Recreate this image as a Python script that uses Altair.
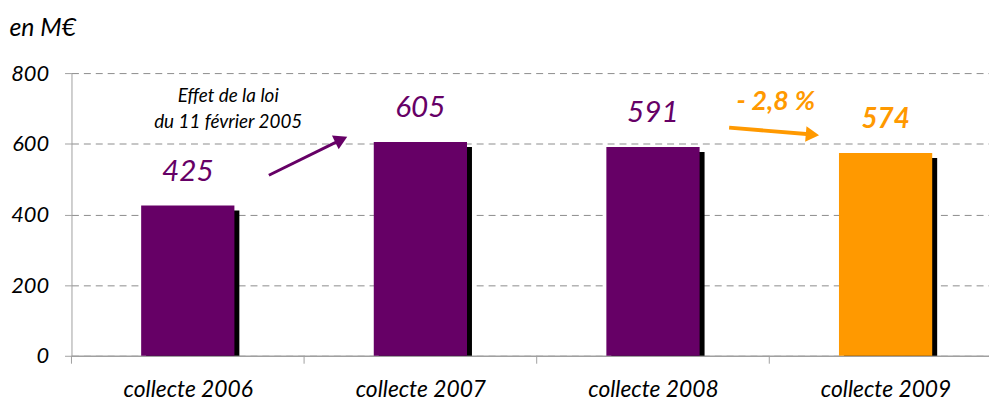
import json
import altair as alt
import pandas as pd

categories = ["collecte 2006", "collecte 2007", "collecte 2008", "collecte 2009"]
values = [425, 605, 591, 574]
labels = ["425", "605", "591", "574"]
groups = ["avant", "avant", "avant", "2009"]
y_ticks = [0, 200, 400, 600, 800]

PURPLE = "#660066"
ORANGE = "#FF9900"
GRAY = "#a0a0a0"
FONT = "Lato"

df = pd.DataFrame({"cat": categories, "val": values, "label": labels, "grp": groups})
df["pos"] = [i + 0.5 for i in range(len(categories))]
df["edge"] = [float(i) for i in range(len(categories))]
one = pd.DataFrame({"k": [0]})

PLOT_W = 925
STEP = 234.5
xscale = alt.Scale(domain=[0, PLOT_W / STEP], nice=False, zero=False, padding=0)
yscale = alt.Scale(domain=[0, 800], nice=False)

label_expr = json.dumps(categories) + "[floor(datum.value)]"

x_enc = alt.X("pos:Q", scale=xscale, title=None,
              axis=alt.Axis(values=list(df["pos"]), labelExpr=label_expr, grid=False,
                            labelFont=FONT, labelFontStyle="italic", labelFontSize=23,
                            labelColor="black", labelAngle=0, ticks=False,
                            domainColor=GRAY, domainWidth=1.5, labelPadding=23))
y_enc = alt.Y("val:Q", scale=yscale,
              axis=alt.Axis(values=y_ticks, title="en M€", titleAngle=0, titleX=-63, titleY=-38,
                            titleAlign="left", titleBaseline="alphabetic", titleFont=FONT,
                            titleFontStyle="italic", titleFontWeight="normal", titleFontSize=25,
                            titleColor="black", labelFont=FONT, labelFontStyle="italic",
                            labelFontSize=22, labelColor="black", labelPadding=16,
                            tickSize=7, tickColor=GRAY, domainColor=GRAY,
                            gridColor="#8c8c8c", gridDash=[7, 5], gridWidth=1))

base = alt.Chart(df)

shadow = base.mark_bar(color="black", size=94, xOffset=5, yOffset=5).encode(
    x=x_enc, y=y_enc, y2=alt.datum(0))
bars = base.mark_bar(size=94).encode(
    x=alt.X("pos:Q", scale=xscale),
    y=alt.Y("val:Q", scale=yscale),
    y2=alt.datum(0),
    color=alt.Color("grp:N", scale=alt.Scale(domain=["avant", "2009"], range=[PURPLE, ORANGE]),
                    legend=None))

ticks = base.mark_rule(color=GRAY, strokeWidth=1).encode(
    x=alt.X("edge:Q", scale=xscale),
    y=alt.value(285), y2=alt.value(293))

lab_p = base.transform_filter(alt.datum.grp == "avant").mark_text(
    font=FONT, fontStyle="italic", fontSize=30, color=PURPLE, baseline="alphabetic", dy=-25
).encode(x=alt.X("pos:Q", scale=xscale), y=alt.Y("val:Q", scale=yscale), text="label:N")
lab_o = base.transform_filter(alt.datum.grp == "2009").mark_text(
    font=FONT, fontStyle="italic", fontWeight="bold", fontSize=28, color=ORANGE,
    baseline="alphabetic", dy=-25
).encode(x=alt.X("pos:Q", scale=xscale), y=alt.Y("val:Q", scale=yscale), text="label:N")

note = alt.Chart(one).mark_text(
    font=FONT, fontStyle="italic", fontSize=19, color="black", align="center",
    baseline="alphabetic", lineHeight=26
).encode(x=alt.value(158), y=alt.value(29),
         text=alt.value(["Effet de la loi", "du 11 février 2005"]))
pct = alt.Chart(one).mark_text(
    font=FONT, fontStyle="italic", fontWeight="bold", fontSize=27, color=ORANGE,
    align="center", baseline="alphabetic"
).encode(x=alt.value(710), y=alt.value(37), text=alt.value("- 2,8 %"))

arr_p = alt.Chart(one).mark_rule(color=PURPLE, strokeWidth=3).encode(
    x=alt.value(199), y=alt.value(103), x2=alt.value(272), y2=alt.value(67))
head_p = alt.Chart(one).mark_point(shape="triangle-right", filled=True, color=PURPLE,
                                   size=240, angle=334, opacity=1).encode(
    x=alt.value(272), y=alt.value(67))
arr_o = alt.Chart(one).mark_rule(color=ORANGE, strokeWidth=4).encode(
    x=alt.value(663), y=alt.value(55), x2=alt.value(747), y2=alt.value(62))
head_o = alt.Chart(one).mark_point(shape="triangle-right", filled=True, color=ORANGE,
                                   size=240, angle=5, opacity=1).encode(
    x=alt.value(747), y=alt.value(62))

chart = alt.layer(shadow, bars, ticks, lab_p, lab_o, note, pct, arr_p, head_p, arr_o, head_o).properties(
    width=PLOT_W, height=285,
    padding={"left": 64, "top": 64, "right": 0, "bottom": 47},
    autosize=alt.AutoSizeParams(type="none"),
).configure_view(strokeWidth=0)

chart.save("out.html", embed_options={"renderer": "svg", "actions": False})
